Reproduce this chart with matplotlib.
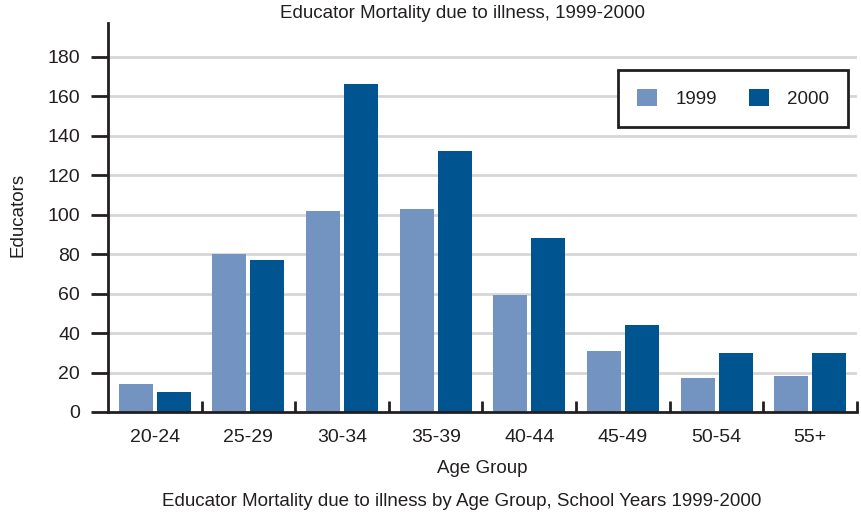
import matplotlib.pyplot as plt
import numpy as np

plt.rcParams['font.family'] = ['Liberation Sans', 'DejaVu Sans']

########## data ##########
ageGroups = ['20-24', '25-29', '30-34', '35-39', '40-44', '45-49', '50-54', '55+']
deaths1999 = [14, 80, 102, 103, 59, 31, 17, 18]
deaths2000 = [10, 77, 166, 132, 88, 44, 30, 30]
yTicks = [0, 20, 40, 60, 80, 100, 120, 140, 160, 180]

color1999 = '#7393c1'
color2000 = '#005591'
inkColor = '#231f20'

W, H = 861, 516
fig = plt.figure(figsize=(W / 100, H / 100), dpi=100)

# axes placed in pixel units of the reference
left, right, bottom, top = 108, 857, 412, 23
ax = fig.add_axes([left / W, 1 - bottom / H, (right - left) / W, (bottom - top) / H])

x = np.arange(len(ageGroups))
barWidth = 0.364
offset = 0.203
ax.bar(x - offset, deaths1999, barWidth, color=color1999, label='1999', zorder=3)
ax.bar(x + offset, deaths2000, barWidth, color=color2000, label='2000', zorder=3)

ax.set_xlim(-0.5, len(ageGroups) - 0.5)
ax.set_ylim(0, 197)

########## axes styling ##########
for side in ['top', 'right']:
    ax.spines[side].set_visible(False)
for side in ['left', 'bottom']:
    ax.spines[side].set_color(inkColor)
    ax.spines[side].set_linewidth(2)
    ax.spines[side].set_zorder(4)

ax.set_yticks(yTicks)
ax.tick_params(axis='y', length=12, width=2, color=inkColor, labelsize=14,
               labelcolor=inkColor, pad=8)
for yv in yTicks[1:]:
    ax.axhline(yv, color='#d6d6d6', linewidth=2, zorder=1)

# category labels at centres, boundary ticks pointing up
ax.set_xticks(x)
ax.set_xticklabels(ageGroups)
ax.tick_params(axis='x', which='major', length=0, labelsize=14,
               labelcolor=inkColor, pad=12)
ax.set_xticks(np.arange(0.5, len(ageGroups)), minor=True)
ax.tick_params(axis='x', which='minor', direction='in', length=8, width=2,
               color=inkColor)

ax.set_xlabel('Age Group', fontsize=13.5, color=inkColor, labelpad=10)
fig.text(18 / W, 1 - 215 / H, 'Educators', rotation=90, fontsize=13.5,
         color=inkColor, ha='center', va='center')

fig.text(463 / W, 1 - 14 / H, 'Educator Mortality due to illness, 1999-2000',
         fontsize=13.5, color=inkColor, ha='center', va='center')
fig.text(462 / W, 1 - 502 / H,
         'Educator Mortality due to illness by Age Group, School Years 1999-2000',
         fontsize=13.5, color=inkColor, ha='center', va='center')

leg = ax.legend(ncol=2, loc='upper right', bbox_to_anchor=(0.988, 0.879),
                borderaxespad=0, fontsize=13.5, frameon=True, fancybox=False,
                framealpha=1, handlelength=1.05, handleheight=1.05,
                columnspacing=1.7, borderpad=1.0, handletextpad=1.0)
leg.get_frame().set_edgecolor(inkColor)
leg.get_frame().set_linewidth(2)
for t in leg.get_texts():
    t.set_color(inkColor)

fig.savefig('out.png', dpi=100)
